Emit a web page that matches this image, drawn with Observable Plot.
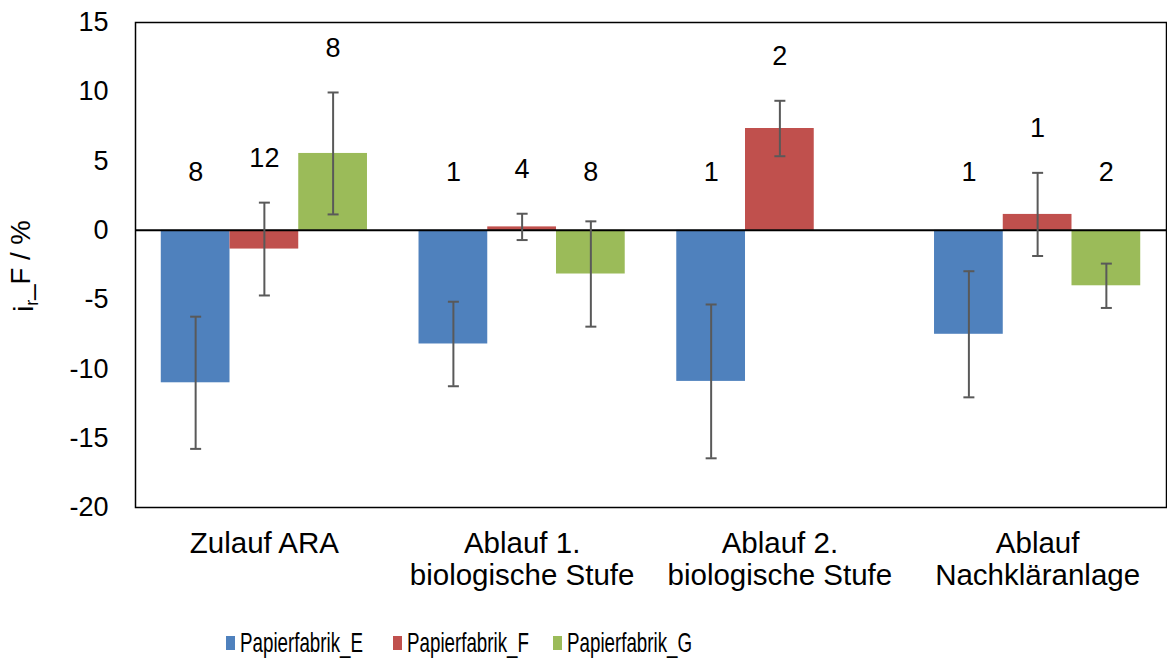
<!DOCTYPE html>
<html><head><meta charset="utf-8">
<script src="https://cdn.jsdelivr.net/npm/d3@7"></script>
<script src="https://cdn.jsdelivr.net/npm/@observablehq/plot@0.6"></script>
<style>
body{margin:0;background:#fff;font-family:"Liberation Sans",Arial,sans-serif;}
#wrap{position:relative;width:1167px;height:661px;}
#legend{position:absolute;top:627px;left:0;width:1167px;height:32px;}
.item{position:absolute;top:0;height:32px;display:flex;align-items:center;}
.sw{width:9px;height:14px;display:inline-block;flex:none;}
.lab{font-size:28px;line-height:32px;display:inline-block;transform:scaleX(0.67);transform-origin:left center;margin-left:5px;white-space:nowrap;color:#000;}
</style></head><body>
<div id="wrap"><div id="chart"></div><div id="legend"></div></div>
<script>
const categories = ["Zulauf ARA", "Ablauf 1.\nbiologische Stufe", "Ablauf 2.\nbiologische Stufe", "Ablauf\nNachkläranlage"];
const series = ["Papierfabrik_E", "Papierfabrik_F", "Papierfabrik_G"];
const colors = ["#4F81BD", "#C0504D", "#9BBB59"];
const meanE = [-11.0, -8.2, -10.9, -7.5];
const errE  = [4.77, 3.05, 5.55, 4.55];
const meanF = [-1.35, 0.25, 7.35, 1.15];
const errF  = [3.35, 0.95, 2.0, 3.0];
const meanG = [5.55, -3.15, null, -4.0];
const errG  = [4.4, 3.8, null, 1.6];
const nE = [8, 1, 1, 1];
const nF = [12, 4, 2, 1];
const nG = [8, 8, null, 2];
const yTicks = [-20, -15, -10, -5, 0, 5, 10, 15];

const means = [meanE, meanF, meanG], errs = [errE, errF, errG], ns = [nE, nF, nG];
const rows = [];
categories.forEach((c, i) => series.forEach((s, j) => {
  if (means[j][i] == null) return;
  rows.push({ci: i, sj: j, series: s, mean: means[j][i], err: errs[j][i], n: ns[j][i]});
}));

const PAD = 0.1, BW = 0.8 / 3;
const x1 = d => d.ci - 0.5 + PAD + d.sj * BW;
const cx = d => x1(d) + BW / 2;
const cap = {draw(ctx) { ctx.moveTo(-5.5, 0); ctx.lineTo(5.5, 0); }};
const errColor = "#595959";

const chart = Plot.plot({
  width: 1167, height: 610,
  marginLeft: 135, marginRight: 1, marginTop: 22, marginBottom: 103,
  style: {fontFamily: "'Liberation Sans', Arial, sans-serif", fontSize: "27px", color: "#000", background: "#fff"},
  x: {domain: [-0.5, 3.5]},
  y: {domain: [-20, 15]},
  color: {domain: series, range: colors},
  marks: [
    Plot.rect(rows, {x1: x1, x2: d => x1(d) + BW, y1: 0, y2: "mean", fill: "series"}),
    Plot.ruleY([0], {stroke: "#000", strokeWidth: 2}),
    Plot.ruleX(rows, {x: cx, y1: d => d.mean - d.err, y2: d => d.mean + d.err, stroke: errColor, strokeWidth: 2}),
    Plot.dot(rows, {x: cx, y: d => d.mean + d.err, symbol: cap, fill: "none", stroke: errColor, strokeWidth: 2}),
    Plot.dot(rows, {x: cx, y: d => d.mean - d.err, symbol: cap, fill: "none", stroke: errColor, strokeWidth: 2}),
    Plot.text(rows, {x: cx, y: d => Math.max(d.mean + d.err, 1), dy: -44, text: d => String(d.n), fontSize: 27, fill: "#000"}),
    Plot.frame({stroke: "#000", strokeWidth: 1.5}),
    Plot.axisY({ticks: yTicks, tickFormat: d => String(d), tickSize: 0, tickPadding: 27, fontSize: 27, label: null}),
    Plot.axisX({ticks: [0, 1, 2, 3], tickFormat: i => categories[i], tickSize: 0, tickPadding: 23, fontSize: 29.5, lineHeight: 1.09, label: null})
  ]
});
document.getElementById("chart").appendChild(chart);

const t = d3.select(chart).append("text")
  .attr("transform", "translate(33,266) rotate(-90)")
  .attr("text-anchor", "middle").attr("font-size", 27.5).attr("fill", "#000");
t.append("tspan").text("i");
t.append("tspan").attr("dy", "0.3em").attr("font-size", 18).text("r");
t.append("tspan").attr("dy", "-0.3em").text("_F / %");

const lg = document.getElementById("legend");
const lefts = [226, 393, 553];
series.forEach((s, j) => {
  const it = document.createElement("div");
  it.className = "item"; it.style.left = lefts[j] + "px";
  it.innerHTML = `<span class="sw" style="background:${colors[j]}"></span><span class="lab">${s}</span>`;
  lg.appendChild(it);
});
</script>
</body></html>
